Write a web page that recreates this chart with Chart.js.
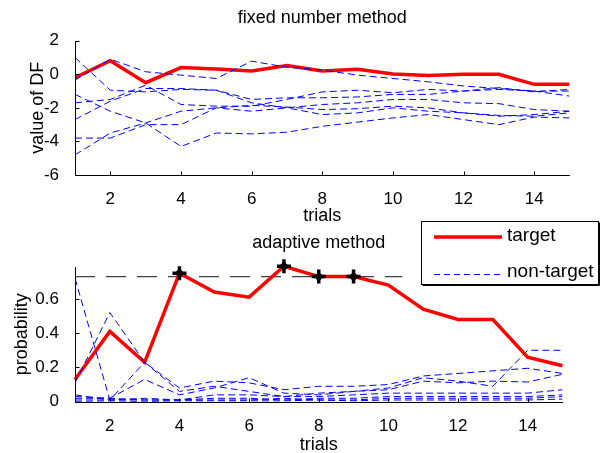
<!DOCTYPE html>
<html><head><meta charset="utf-8">
<script src="https://cdn.jsdelivr.net/npm/chart.js@4.4.1/dist/chart.umd.min.js"></script>
<style>
html,body{margin:0;padding:0;background:#fff;}
#wrap{position:relative;width:603px;height:453px;overflow:hidden;}
canvas{position:absolute;left:0;top:0;}
</style></head><body>
<div id="wrap"><canvas id="topChart" width="603" height="453"></canvas><canvas id="botChart" width="603" height="453"></canvas></div>
<script>
// ---------- data ----------
const trials = [1,2,3,4,5,6,7,8,9,10,11,12,13,14,15];
const xTicks = [2,4,6,8,10,12,14];
const yTicksTop = [-6,-4,-2,0,2];
const yTicksBottom = [0,0.2,0.4,0.6];

// fixed number method (value of DF)
const fixedTarget = [-0.2,0.81,-0.5,0.4,0.32,0.2,0.52,0.2,0.3,0.02,-0.08,0,0,-0.6,-0.6];
const fixedNon1 = [-0.35,0.9,0.15,-0.05,-0.25,0.78,0.42,0.25,-0.05,-0.25,-0.45,-0.7,-0.85,-1.0,-1.3];
const fixedNon2 = [1.0,-0.95,-1.05,-0.9,-0.95,-1.7,-2.0,-2.4,-2.3,-2.0,-2.2,-2.3,-2.5,-2.4,-2.2];
const fixedNon3 = [-1.7,-1.5,-0.65,-1.8,-1.9,-1.9,-1.5,-1.05,-0.95,-1.1,-0.9,-1.0,-0.8,-1.05,-0.9];
const fixedNon4 = [-1.2,-2.2,-2.9,-4.3,-3.5,-3.55,-3.45,-3.1,-2.85,-2.6,-2.4,-2.7,-3.0,-2.55,-2.6];
const fixedNon5 = [-3.8,-3.8,-3.0,-3.0,-2.0,-2.2,-2.0,-1.8,-1.7,-1.5,-1.5,-1.7,-1.75,-2.1,-2.2];
const fixedNon6 = [-4.8,-3.5,-2.9,-2.2,-2.0,-1.85,-1.95,-2.1,-2.05,-1.9,-2.0,-2.3,-2.45,-2.5,-2.3];
const fixedNon7 = [-2.7,-1.6,-0.85,-0.85,-0.95,-1.5,-1.4,-1.4,-1.35,-1.2,-1.2,-1.0,-0.9,-1.0,-1.0];

// adaptive method (probability)
const adaptiveTarget = [0.13,0.41,0.23,0.75,0.64,0.61,0.79,0.73,0.73,0.68,0.54,0.48,0.48,0.26,0.21];
const adaptiveNon1 = [0.72,0.01,0.23,0.06,0.09,0.06,0.03,0.05,0.06,0.08,0.14,0.12,0.09,0.30,0.30];
const adaptiveNon2 = [0.11,0.52,0.23,0.08,0.12,0.11,0.07,0.09,0.09,0.10,0.15,0.165,0.18,0.195,0.165];
const adaptiveNon3 = [0.03,0.02,0.13,0.04,0.08,0.14,0.05,0.04,0.06,0.07,0.12,0.11,0.12,0.115,0.16];
const adaptiveNon4 = [0.04,0.01,0.02,0.01,0.04,0.04,0.03,0.03,0.04,0.05,0.05,0.05,0.05,0.05,0.07];
const adaptiveNon5 = [0.02,0.02,0.01,0.01,0.02,0.02,0.01,0.02,0.02,0.03,0.03,0.03,0.03,0.03,0.04];
const adaptiveNon6 = [0.01,0.01,0.01,0.01,0.01,0.01,0.02,0.01,0.01,0.02,0.02,0.02,0.02,0.02,0.03];
const adaptiveNon7 = [0.0,0.005,0.0,0.005,0.005,0.005,0.005,0.01,0.005,0.01,0.01,0.01,0.01,0.01,0.015];
const markerTrials = [4,7,8,9];
const thresholdValue = 0.73;
const thresholdTrials = [1,10.4];

const legendLabels = ['target','non-target'];

// ---------- helpers ----------
const pts = arr => trials.map((t,i)=>({x:t,y:arr[i]}));
const FONT = "'Liberation Sans', Arial, Helvetica, sans-serif";
Chart.defaults.font.family = FONT;
Chart.defaults.color = '#000';

const blueDash = arr => ({data:pts(arr), borderColor:'#0000ff', borderWidth:1, borderDash:[7,4], pointRadius:0, fill:false, tension:0});
const redLine = arr => ({data:pts(arr), borderColor:'#ff0000', borderWidth:3.5, pointRadius:0, fill:false, tension:0, borderJoinStyle:'miter'});

const axesPlugin = {
  id:'matlabAxes',
  afterDraw(chart){
    const {ctx, chartArea:a, scales:{x,y}} = chart;
    ctx.save();
    ctx.strokeStyle='#000'; ctx.lineWidth=1;
    const L = Math.round(a.left)+0.5, B = Math.round(a.bottom)+0.5;
    ctx.beginPath();
    ctx.moveTo(L, Math.round(a.top)); ctx.lineTo(L,B); ctx.lineTo(Math.round(a.right),B);
    x.ticks.forEach(t=>{const px=Math.round(x.getPixelForValue(t.value))+0.5; ctx.moveTo(px,B); ctx.lineTo(px,B-4);});
    y.ticks.forEach(t=>{const py=Math.round(y.getPixelForValue(t.value))+0.5; ctx.moveTo(L,py); ctx.lineTo(L+4,py);});
    ctx.stroke();
    ctx.restore();
  }
};

const legendPlugin = {
  id:'matlabLegend',
  afterDraw(chart){
    const ctx = chart.ctx;
    ctx.save();
    const bx=421.5, by=221.5, bw=177, bh=63;
    ctx.fillStyle='#fff'; ctx.fillRect(bx,by,bw,bh);
    ctx.strokeStyle='#000'; ctx.lineWidth=1; ctx.strokeRect(bx,by,bw,bh);
    ctx.beginPath(); ctx.moveTo(bx+bw+1,by+1); ctx.lineTo(bx+bw+1,by+bh+1); ctx.lineTo(bx+1,by+bh+1); ctx.stroke();
    // samples
    ctx.strokeStyle='#ff0000'; ctx.lineWidth=3.5; ctx.setLineDash([]);
    ctx.beginPath(); ctx.moveTo(434,237); ctx.lineTo(502,237); ctx.stroke();
    ctx.strokeStyle='#0000ff'; ctx.lineWidth=1; ctx.setLineDash([6,4]);
    ctx.beginPath(); ctx.moveTo(434,274.5); ctx.lineTo(502,274.5); ctx.stroke();
    ctx.setLineDash([]);
    ctx.fillStyle='#000'; ctx.font="19px "+FONT; ctx.textBaseline='middle'; ctx.textAlign='left';
    ctx.fillText(legendLabels[0],507,236);
    ctx.fillText(legendLabels[1],507,272);
    ctx.restore();
  }
};

const xScale = (h) => ({
  type:'linear', min:1, max:15,
  afterBuildTicks:s=>{s.ticks = xTicks.map(v=>({value:v}));},
  afterFit:s=>{s.height=h;},
  grid:{display:false}, border:{display:false},
  ticks:{padding:6.5, font:{size:17}, color:'#000', autoSkip:false, maxRotation:0, callback:v=>String(v)},
  title:{display:true, text:'trials', font:{size:18}, color:'#000', padding:{top:0,bottom:-3}}
});
const yScale = (min,max,ticksArr,label,tpad) => ({
  type:'linear', min:min, max:max,
  afterBuildTicks:s=>{s.ticks = ticksArr.map(v=>({value:v}));},
  afterFit:s=>{s.width=75;},
  grid:{display:false}, border:{display:false},
  ticks:{padding:8, font:{size:17}, color:'#000', autoSkip:false, callback:v=>String(v)},
  title:{display:true, text:label, font:{size:18}, color:'#000', padding:{top:tpad,bottom:0}}
});

// ---------- top chart ----------
new Chart(document.getElementById('topChart'), {
  type:'line',
  data:{datasets:[
    blueDash(fixedNon1), blueDash(fixedNon2), blueDash(fixedNon3), blueDash(fixedNon4),
    blueDash(fixedNon5), blueDash(fixedNon6), blueDash(fixedNon7),
    redLine(fixedTarget)
  ]},
  options:{
    responsive:false, animation:false, events:[],
    layout:{padding:{left:0,top:0,right:33.5,bottom:229}},
    plugins:{
      legend:{display:false}, tooltip:{enabled:false},
      title:{display:true, text:'fixed number method', fullSize:false, font:{size:18,weight:'normal'}, color:'#000', padding:{top:7.2,bottom:11.9}}
    },
    scales:{ x:xScale(49), y:yScale(-6,2,yTicksTop,'value of DF',27) }
  },
  plugins:[axesPlugin]
});

// ---------- bottom chart ----------
const markerPts = markerTrials.map(t=>({x:t, y:adaptiveTarget[t-1]}));
new Chart(document.getElementById('botChart'), {
  type:'line',
  data:{datasets:[
    {data:markerPts, showLine:false, pointStyle:'cross', pointRadius:7, borderColor:'#000', borderWidth:3.5, backgroundColor:'#000', clip:false},
    {data:markerPts, showLine:false, pointStyle:'rectRot', pointRadius:4.5, borderColor:'#000', borderWidth:1, backgroundColor:'#000', clip:false},
    blueDash(adaptiveNon1), blueDash(adaptiveNon2), blueDash(adaptiveNon3), blueDash(adaptiveNon4),
    blueDash(adaptiveNon5), blueDash(adaptiveNon6), blueDash(adaptiveNon7),
    Object.assign(redLine(adaptiveTarget),{clip:false}),
    {data:thresholdTrials.map(t=>({x:t,y:thresholdValue})), borderColor:'#404040', borderWidth:1.2, borderDash:[20,11], pointRadius:0, fill:false}
  ]},
  options:{
    responsive:false, animation:false, events:[],
    layout:{padding:{left:0,top:0,right:40.5,bottom:0}},
    plugins:{
      legend:{display:false}, tooltip:{enabled:false},
      title:{display:true, text:'adaptive method', fullSize:false, font:{size:18,weight:'normal'}, color:'#000', padding:{top:232.2,bottom:13.2}}
    },
    scales:{ x:xScale(51.3), y:yScale(0,0.786,yTicksBottom,'probability',11) }
  },
  plugins:[axesPlugin, legendPlugin]
});
</script>
</body></html>
